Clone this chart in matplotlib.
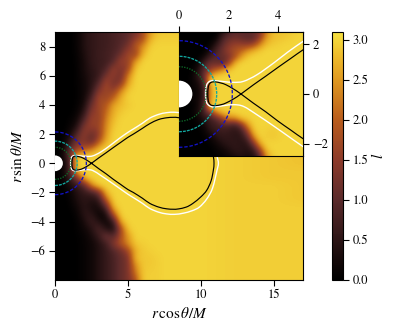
import numpy as np
import matplotlib
matplotlib.use("Agg")
import matplotlib.pyplot as plt
from matplotlib.colors import LinearSegmentedColormap, Normalize
from matplotlib.patches import Circle, PathPatch
from matplotlib.path import Path

plt.rcParams['font.family'] = ['STIXGeneral', 'Liberation Serif']
plt.rcParams['mathtext.fontset'] = 'stix'
plt.rcParams['font.size'] = 9

# Angular momentum field
main_x = [0,.5,1,1.5,2,2.5,3,3.5,4,4.5,5,5.5,6,6.5,7,7.5,8,8.5,10,12.5,15,17]
main_y = [9,8.5,8,7.5,7,6.5,6,5.5,5,4.5,4,3.5,3,2.5,2,1.5,1,.5,0,-.5,-1,-1.5,-2,-2.5,-3,-3.5,-4,-4.5,-5,-5.5,-6,-6.5,-7,-7.5,-8]
main_l = [
 [0,0,0,.1,.4,.55,.65,.7,.8,.9,1.0,1.2,1.7,2.5,2.85,2.9,2.9,2.9,2.95,2.95,2.9,2.85],
 [0,0,0,.1,.4,.55,.65,.7,.8,.9,1.05,1.6,1.8,2.7,2.95,2.95,2.95,2.95,2.95,2.95,2.9,2.85],
 [0,0,0,.1,.4,.55,.65,.7,.8,.95,1.3,1.9,2.4,2.95,3,3,3,3,2.95,2.95,2.9,2.85],
 [0,0,0,.08,.35,.55,.65,.75,.85,1.1,1.8,1.5,2.7,3,3,3,3,3,2.95,2.95,2.9,2.85],
 [0,0,0,.06,.3,.55,.65,.7,.9,1.7,1.5,2.5,3,3,3,3,3,3,2.95,2.95,2.9,2.85],
 [0,0,0,.05,.3,.5,.65,.8,1.6,1.3,1.6,2.9,3,3,3,3,3,3,2.95,2.95,2.9,2.85],
 [0,0,0,.05,.25,.45,.6,1.3,1.6,1.1,2.3,3,3,3,3,3,3,3,2.95,2.95,2.9,2.85],
 [0,0,0,.05,.2,.45,.9,1.8,1.2,1.4,2.6,3,3,3,3,3,3,3,2.95,2.95,2.9,2.85],
 [0,0,0,.04,.2,.5,1.4,1.7,1.5,2.3,2.9,3,3,3,3,3,3,3,2.95,2.95,2.9,2.85],
 [0,0,0,.04,.2,.8,1.8,1.6,2.0,2.7,3,3,3,3,3,3,3,3,2.95,2.95,2.9,2.85],
 [0,0,0,.05,.3,1.2,1.7,1.9,2.6,2.8,2.9,3,3,3,3,3,3,3,2.95,2.95,2.9,2.85],
 [0,0,0,.1,.5,1.5,1.6,2.1,2.7,2.9,3,3,3,3,3,3,3,3,2.95,2.95,2.9,2.85],
 [0,0,.05,.2,.9,1.7,1.5,2.3,2.8,3,3,3,3,3,3,3,3,3,2.95,2.95,2.9,2.85],
 [0,0,.1,.4,1.4,1.6,1.6,2.4,2.9,3,3,3,3,3,3,3,3,3,2.95,2.95,2.9,2.85],
 [0,0,.2,.9,1.6,1.1,1.5,2.5,3,3,3,3,3,3,3,3,3,3,2.95,2.95,2.9,2.85],
 [0,0,.5,1.3,1.4,1.0,1.9,2.7,3,3,3,3,3,3,3,3,3,3,2.95,2.95,2.9,2.85],
 [0,.05,1.0,1.6,1.8,2.2,2.8,3,3,3,3,3,3,3,3,3,3,3,2.95,2.95,2.9,2.85],
 [0,.1,1.0,2.9,3,3,3,3,3,3,3,3,3,3,3,3,3,3,3,2.95,2.9,2.85],
 [0,.1,.6,3,3,3,3,3,3,3,3,3,3,3,3,3,3,3,3,2.95,2.9,2.85],
 [0,.1,.7,2.9,3,3,3,3,3,3,3,3,3,3,3,3,3,3,3,2.95,2.9,2.9],
 [0,.05,.6,1.3,2.8,3,3,3,3,3,3,3,3,3,3,3,3,3,3,2.95,2.9,2.9],
 [0,.02,.3,.6,1.0,2.4,3,3,3,3,3,3,3,3,3,3,3,3,3,2.95,2.95,2.9],
 [0,0,.1,.4,.6,.7,1.2,2.8,3,3,3,3,3,3,3,3,3,3,3,2.95,2.95,2.9],
 [0,0,.05,.35,.5,.4,.5,2.0,3,3,3,3,3,3,3,3,3,3,3,2.95,2.95,2.9],
 [0,0,.03,.2,.5,.3,.25,.9,2.8,3,3,3,3,3,3,3,3,3,3,2.95,2.95,2.95],
 [0,0,0,.1,.5,.5,.15,.2,1.9,3,3,3,3,3,3,3,3,3,3,2.95,2.95,2.95],
 [0,0,0,.05,.3,.7,.4,.15,.5,2.7,3,3,3,3,3,3,3,3,3,2.95,2.95,2.95],
 [0,0,0,.05,.2,.4,.9,.4,.25,1.7,2.9,3,3,3,3,3,3,3,3,2.95,2.95,2.95],
 [0,0,0,.03,.1,.3,.6,1.3,.9,1.8,2.5,3,3,3,3,3,3,3,3,2.95,2.95,2.95],
 [0,0,0,.02,.1,.2,.4,.7,1.4,1.9,2.4,2.9,2.95,3,3,3,3,3,3,2.95,2.95,2.95],
 [0,0,0,.02,.1,.2,.4,.6,.9,1.2,1.7,2.7,2.9,2.95,3,3,3,3,3,2.95,2.95,2.95],
 [0,0,0,.02,.1,.2,.4,.6,.8,1.1,1.3,2.8,2.9,2.9,2.95,3,3,3,3,2.95,2.95,2.95],
 [0,0,0,.02,.1,.2,.4,.6,.8,1.1,1.3,2.4,2.9,2.9,2.95,3,3,3,3,2.95,2.95,2.95],
 [0,0,0,.02,.1,.2,.4,.6,.8,1.1,1.3,2.2,2.9,2.95,2.95,3,3,3,3,2.95,2.95,2.95],
 [0,0,0,.02,.1,.2,.4,.6,.8,1.1,1.3,1.8,2.9,2.95,2.95,3,3,3,3,2.95,2.95,2.95],
]

# Field
inset_x = [0,.25,.5,.75,1,1.25,1.5,1.75,2,2.25,2.5,2.75,3,3.25,3.5,3.75,4,4.25,4.5,4.75,5]
inset_y = [2.5,2.25,2,1.75,1.5,1.25,1,.75,.5,.25,0,-.25,-.5,-.75,-1,-1.25,-1.5,-1.75,-2,-2.25,-2.5]
inset_l = [
 [0,0,0,0,0,0,0,.4,.8,1.0,1.0,1.0,1.1,1.3,2.2,2.8,2.85,2.85,2.9,2.95,3],
 [0,0,0,0,0,0,.1,.8,1.1,1.2,1.1,1.0,1.0,1.6,2.5,2.8,2.85,2.9,2.95,3,3],
 [0,0,0,0,0,.05,.5,1.0,1.4,1.6,1.6,1.5,1.7,2.3,2.8,2.9,2.95,3,3,3,3],
 [0,0,0,0,0,.3,.8,1.2,1.6,1.8,2.0,2.4,2.7,2.9,3,3,3,3,3,3,3],
 [0,0,0,0,.2,.7,1.0,1.1,1.3,1.8,2.5,2.9,3,3,3,3,3,3,3,3,3],
 [0,0,0,.1,.7,1.2,1.1,.9,1.6,2.7,3,3,3,3,3,3,3,3,3,3,3],
 [0,0,.02,.3,.9,1.5,1.9,2.3,2.8,3,3,3,3,3,3,3,3,3,3,3,3],
 [0,0,.05,.5,1.0,2.5,2.9,3,3,3,3,3,3,3,3,3,3,3,3,3,3],
 [0,0,.1,.3,.8,3,3,3,3,3,3,3,3,3,3,3,3,3,3,3,3],
 [0,0,.1,.2,.6,2.5,3,3,3,3,3,3,3,3,3,3,3,3,3,3,3],
 [0,0,.1,.15,.5,2.5,3,3,3,3,3,3,3,3,3,3,3,3,3,3,3],
 [0,0,.1,.2,.6,2.5,3,3,3,3,3,3,3,3,3,3,3,3,3,3,3],
 [0,0,.0,.2,.7,3,3,3,3,3,3,3,3,3,3,3,3,3,3,3,3],
 [0,0,.05,.3,.7,1.3,2.3,2.8,2.9,3,3,3,3,3,3,3,3,3,3,3,3],
 [0,0,.02,.1,.4,.7,1.0,1.6,2.3,2.3,2.8,2.9,3,3,3,3,3,3,3,3,3],
 [0,0,0,.05,.2,.6,.7,.9,.9,.7,1.3,2.4,2.95,3,3,3,3,3,3,3,3],
 [0,0,0,0,.1,.4,.6,.65,.6,.5,.6,1.6,2.8,3,2.95,2.9,2.95,3,3,3,3],
 [0,0,0,0,.05,.15,.4,.55,.55,.5,.5,.9,2.3,2.95,2.95,2.9,2.95,3,3,3,3],
 [0,0,0,0,0,.05,.2,.4,.5,.55,.45,.5,1.3,2.6,3,3,3,3,3,3,3],
 [0,0,0,0,0,0,.1,.2,.35,.5,.5,.4,.6,1.6,2.8,3,3,3,3,3,3],
 [0,0,0,0,0,0,.05,.1,.2,.3,.4,.3,.35,.9,2.4,2.9,3,3,3,3,3],
]

# Colour scale stops
cmap_values = [0, .25, .5, 1.0, 1.5, 2.0, 2.5, 2.8, 3.1]
cmap_colors = ['#000000', '#140909', '#2c1516', '#5a2a2b', '#8c3a2a', '#b95c1c',
               '#df9820', '#eebb2c', '#f6e040']
l_max = 3.1

# Contours
black_x = [2.5,2.2,1.9,1.7,1.46,1.3,1.21,1.17,1.16,1.17,1.21,1.3,1.46,1.7,1.9,2.2,2.5,3.0,3.5,4.0,4.5,5.0,5.37,6.0,6.5,7.1,7.65,8.1,8.45,9.0,9.45,10.0,10.4,10.7,10.85,10.9,
           10.85,10.7,10.4,10.0,9.45,9.0,8.45,8.1,7.65,7.1,6.5,6.0,5.37,5.0,4.5,4.0,3.5,3.0,2.5]
black_y = [0,.2,.37,.44,.49,.47,.38,.2,0,-.2,-.36,-.45,-.47,-.43,-.36,-.2,0,.37,.72,1.08,1.43,1.78,2.0,2.4,2.72,3.0,3.12,3.15,3.13,3.0,2.75,2.3,1.85,1.2,.5,0,
           -.5,-1.2,-1.85,-2.3,-2.75,-3.0,-3.13,-3.15,-3.12,-3.0,-2.75,-2.4,-2.0,-1.8,-1.45,-1.1,-.72,-.37,0]
white_x = [3.15,2.6,2.2,1.8,1.4,1.22,1.12,1.08,1.07,1.08,1.12,1.22,1.4,1.8,2.2,2.6,3.15,3.83,4.4,5.0,5.37,6.0,6.5,7.1,7.65,8.2,8.8,9.4,9.9,10.4,10.8,11.1,11.2,
           11.1,10.8,10.4,9.9,9.4,8.8,8.2,7.65,7.1,6.5,6.0,5.37,5.0,4.4,3.83,3.15]
white_y = [.78,.51,.47,.5,.54,.5,.38,.2,0,-.2,-.36,-.47,-.52,-.47,-.43,-.5,-.84,-1.3,-1.7,-2.12,-2.35,-2.75,-3.1,-3.35,-3.47,-3.5,-3.42,-3.25,-3.0,-2.45,-1.7,-.5,0,
           .5,1.7,2.45,3.0,3.25,3.42,3.5,3.47,3.35,3.1,2.75,2.35,2.12,1.7,1.26,.78]

horizon_radius = 0.54
circle_radii = [2.15, 1.52, 1.1]
circle_colors = ['#1212c8', '#12a8a0', '#0c6a28']
circle_styles = [(0, (2.6, 1.4)), (0, (2.2, 0.8)), (0, (1, 1))]
circle_theta = np.linspace(-90, 90, 181)

main_xticks = [0, 5, 10, 15]
main_yticks = [-6, -4, -2, 0, 2, 4, 6, 8]
inset_xticks = [0, 2, 4]
inset_yticks = [-2, 0, 2]
cbar_ticks = [0, .5, 1, 1.5, 2, 2.5, 3]

W, H = 397, 332
fig = plt.figure(figsize=(W/100, H/100), dpi=100)
ax = fig.add_axes([55/W, 1-280/H, 248/W, 248/H])
axin = fig.add_axes([179/W, 1-156/H, 124/W, 124/H])
cax = fig.add_axes([332/W, 1-280/H, 11/W, 248/H])

cmap = LinearSegmentedColormap.from_list(
    'lcmap', [(v/l_max, c) for v, c in zip(cmap_values, cmap_colors)], N=256)
norm = Normalize(0, l_max)


def smooth_path(xs, ys):
    """Bezier path passing through every read-off point."""
    p = np.column_stack([xs, ys])
    verts = [p[0]]
    codes = [Path.MOVETO]
    n = len(p)
    for i in range(n - 1):
        p0 = p[i - 1] if i > 0 else p[n - 2]
        p3 = p[i + 2] if i + 2 < n else p[1]
        verts += [p[i] + (p[i + 1] - p0) / 6, p[i + 1] - (p3 - p[i]) / 6, p[i + 1]]
        codes += [Path.CURVE4] * 3
    return Path(verts, codes)


def draw(a, xs, ys, field, xl, yl):
    xs = np.array(xs, float)
    ys = np.array(ys, float)
    field = np.array(field, float)
    # regular columns for the image (tail columns of the table are sparse)
    step = min(np.diff(xs))
    reg_x = np.arange(xs[0], xs[-1] + step / 2, step)
    reg = np.array([np.interp(reg_x, xs, row) for row in field])
    m = a.imshow(reg, cmap=cmap, norm=norm, interpolation='bicubic', aspect='auto',
                 origin='upper', extent=(xs[0] - step / 2, xs[-1] + step / 2,
                                         ys[-1] + (ys[-1] - ys[-2]) / 2,
                                         ys[0] - (ys[1] - ys[0]) / 2))
    a.add_patch(PathPatch(smooth_path(white_x, white_y), fc='none', ec='white', lw=1.0, zorder=3))
    a.add_patch(PathPatch(smooth_path(black_x, black_y), fc='none', ec='black', lw=0.85, zorder=4))
    for r, c, s in zip(circle_radii, circle_colors, circle_styles):
        t = np.deg2rad(circle_theta)
        a.plot(r*np.cos(t), r*np.sin(t), color=c, lw=0.95, ls=s, zorder=5)
    a.add_patch(Circle((0, 0), horizon_radius, fc='white', ec='none', zorder=6))
    a.set_xlim(*xl)
    a.set_ylim(*yl)
    return m


m = draw(ax, main_x, main_y, main_l, (0, 17), (-8, 9))
draw(axin, inset_x, inset_y, inset_l, (0, 5), (-2.5, 2.5))

ax.set_xticks(main_xticks)
ax.set_yticks(main_yticks)
ax.set_xlabel(r'$r\,\cos\theta/M$', fontsize=11, labelpad=3)
ax.set_ylabel(r'$r\,\sin\theta/M$', fontsize=11, labelpad=4)

axin.set_xticks(inset_xticks)
axin.set_yticks(inset_yticks)
axin.xaxis.tick_top()
axin.yaxis.tick_right()

cb = fig.colorbar(m, cax=cax, ticks=cbar_ticks)
cb.set_ticklabels(['0.0', '0.5', '1.0', '1.5', '2.0', '2.5', '3.0'])
cb.set_label(r'$l$', fontsize=11, labelpad=1)

for a in (ax, axin, cax):
    a.tick_params(labelsize=9, length=4, width=0.8, pad=3)

fig.savefig('out.png', dpi=100)
